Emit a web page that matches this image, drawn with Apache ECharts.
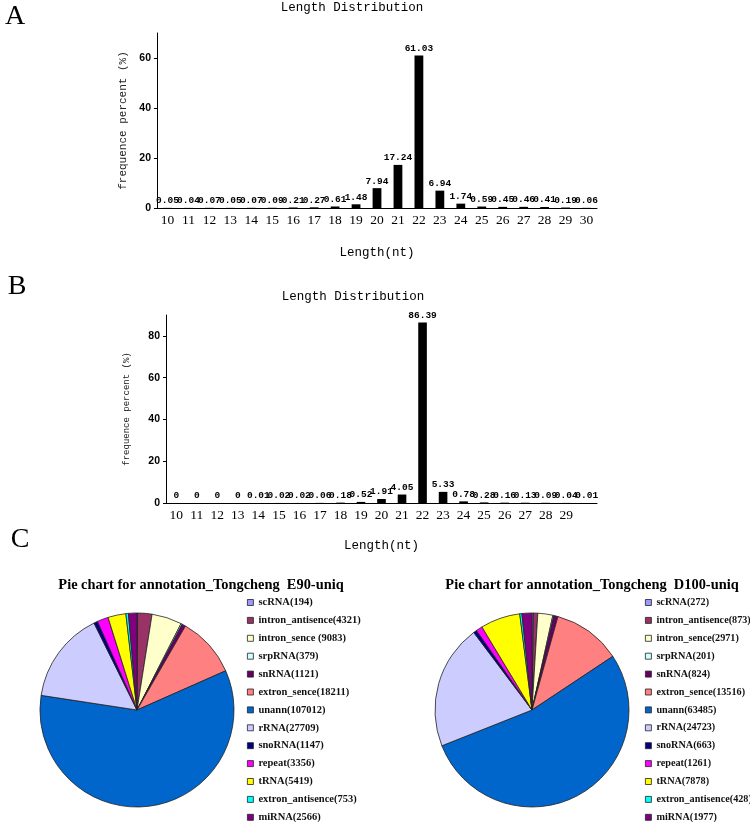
<!DOCTYPE html>
<html>
<head>
<meta charset="utf-8">
<title>Length Distribution</title>
<script src="https://cdn.jsdelivr.net/npm/echarts@6/dist/echarts.min.js"></script>
<style>
html, body { margin: 0; padding: 0; background: #fff; }
#chart { width: 750px; height: 822px; }
</style>
</head>
<body>
<div id="chart"></div>
<script>
// panel A
var lengthsA = ['10', '11', '12', '13', '14', '15', '16', '17', '18', '19', '20',
  '21', '22', '23', '24', '25', '26', '27', '28', '29', '30']
var percentA = [0.05, 0.04, 0.07, 0.05, 0.07, 0.09, 0.21, 0.27, 0.61, 1.48, 7.94,
  17.24, 61.03, 6.94, 1.74, 0.59, 0.45, 0.46, 0.41, 0.19, 0.06]

// panel B (last bar has no tick label in the figure)
var lengthsB = ['10', '11', '12', '13', '14', '15', '16', '17', '18', '19', '20',
  '21', '22', '23', '24', '25', '26', '27', '28', '29', '']
var percentB = [0, 0, 0, 0, 0.01, 0.02, 0.02, 0.06, 0.18, 0.52, 1.91,
  4.05, 86.39, 5.33, 0.78, 0.28, 0.16, 0.13, 0.09, 0.04, 0.01]

// panel C
var e90Labels = ['scRNA(194)', 'intron_antisence(4321)', 'intron_sence (9083)', 'srpRNA(379)',
  'snRNA(1121)', 'extron_sence(18211)', 'unann(107012)', 'rRNA(27709)', 'snoRNA(1147)',
  'repeat(3356)', 'tRNA(5419)', 'extron_antisence(753)', 'miRNA(2566)']
var e90Counts = [194, 4321, 9083, 379, 1121, 18211, 107012, 27709, 1147, 3356, 5419, 753, 2566]
var d100Labels = ['scRNA(272)', 'intron_antisence(873)', 'intron_sence(2971)', 'srpRNA(201)',
  'snRNA(824)', 'extron_sence(13516)', 'unann(63485)', 'rRNA(24723)', 'snoRNA(663)',
  'repeat(1261)', 'tRNA(7878)', 'extron_antisence(428)', 'miRNA(1977)']
var d100Counts = [272, 873, 2971, 201, 824, 13516, 63485, 24723, 663, 1261, 7878, 428, 1977]
var pieColors = ['#9999FF', '#993366', '#FFFFCC', '#CCFFFF', '#660066', '#FF8080', '#0066CC',
  '#CCCCFF', '#000080', '#FF00FF', '#FFFF00', '#00FFFF', '#800080']

var monoFont = '"Liberation Mono", "DejaVu Sans Mono", monospace'
var serifFont = '"Liberation Serif", "DejaVu Serif", serif'

function pieData (labels, counts) {
  return labels.map(function (name, i) {
    return { name: name, value: counts[i], itemStyle: { color: pieColors[i] } }
  })
}

function xAxisFor (gridIndex, cats, nameGap) {
  return {
    type: 'category',
    gridIndex: gridIndex,
    data: cats,
    name: 'Length(nt)',
    nameLocation: 'middle',
    nameGap: nameGap,
    nameTextStyle: { fontFamily: monoFont, fontSize: 12.5, color: '#000' },
    axisLine: { lineStyle: { color: '#000', width: 1 } },
    axisTick: { inside: true, length: 3, lineStyle: { color: '#000' } },
    axisLabel: { interval: 0, margin: 5, color: '#000', fontFamily: serifFont, fontSize: 13.5 }
  }
}

function yAxisFor (gridIndex, max, nameSize, nameGap) {
  return {
    type: 'value',
    gridIndex: gridIndex,
    min: 0,
    max: max,
    interval: 20,
    name: 'frequence percent (%)',
    nameLocation: 'middle',
    nameGap: nameGap,
    nameTextStyle: { fontFamily: monoFont, fontSize: nameSize, color: '#222' },
    splitLine: { show: false },
    axisLine: { show: true, lineStyle: { color: '#000', width: 1 } },
    axisTick: { show: true, length: 3, lineStyle: { color: '#000' } },
    axisLabel: {
      showMaxLabel: false, margin: 6, color: '#000',
      fontFamily: 'Arial, "Liberation Sans", sans-serif', fontWeight: 'bold', fontSize: 10.5
    }
  }
}

function barSeries (idx, values) {
  return {
    type: 'bar',
    xAxisIndex: idx,
    yAxisIndex: idx,
    data: values,
    barWidth: '42%',
    itemStyle: { color: '#000' },
    label: {
      show: true,
      position: 'top',
      distance: 2,
      color: '#000',
      fontFamily: monoFont,
      fontWeight: 'bold',
      fontSize: 9.5
    }
  }
}

function pieSeries (cx, labels, counts) {
  return {
    type: 'pie',
    center: [cx, 710],
    radius: 97,
    startAngle: 90,
    clockwise: true,
    label: { show: false },
    labelLine: { show: false },
    emphasis: { disabled: true },
    itemStyle: { borderColor: '#222', borderWidth: 0.8 },
    data: pieData(labels, counts)
  }
}

function legendFor (left, labels, fontSize) {
  return {
    orient: 'vertical',
    left: left,
    top: 597,
    height: 240,
    padding: 0,
    data: labels,
    icon: 'rect',
    itemWidth: 6,
    itemHeight: 6,
    itemGap: 6.9,
    selectedMode: false,
    itemStyle: { borderColor: '#222', borderWidth: 0.8 },
    textStyle: { fontFamily: serifFont, fontWeight: 'bold', fontSize: fontSize, lineHeight: 11, height: 11, color: '#111' }
  }
}

function txt (x, y, text, font) {
  return {
    type: 'text',
    x: x,
    y: y,
    style: { text: text, font: font, fill: '#000', textAlign: 'center', textVerticalAlign: 'middle' }
  }
}

var chart = echarts.init(document.getElementById('chart'))
chart.setOption({
  backgroundColor: '#fff',
  animation: false,
  grid: [
    { left: 157, top: 33, width: 440, height: 175 },
    { left: 166, top: 315, width: 431, height: 188 }
  ],
  xAxis: [xAxisFor(0, lengthsA, 38), xAxisFor(1, lengthsB, 36)],
  yAxis: [yAxisFor(0, 70, 11, 14), yAxisFor(1, 90, 9, 35)],
  legend: [legendFor(247, e90Labels, 10.5), legendFor(645, d100Labels, 10.2)],
  series: [
    barSeries(0, percentA),
    barSeries(1, percentB),
    pieSeries(137, e90Labels, e90Counts),
    pieSeries(532, d100Labels, d100Counts)
  ],
  graphic: [
    txt(15, 17, 'A', '28px ' + serifFont),
    txt(17, 287, 'B', '28px ' + serifFont),
    txt(20, 540, 'C', '28px ' + serifFont),
    txt(352, 8, 'Length Distribution', '12.5px ' + monoFont),
    txt(353, 297, 'Length Distribution', '12.5px ' + monoFont),
    txt(201, 585, 'Pie chart for annotation_Tongcheng  E90-uniq', 'bold 14.4px ' + serifFont),
    txt(592, 585, 'Pie chart for annotation_Tongcheng  D100-uniq', 'bold 14.4px ' + serifFont)
  ]
})
</script>
</body>
</html>
